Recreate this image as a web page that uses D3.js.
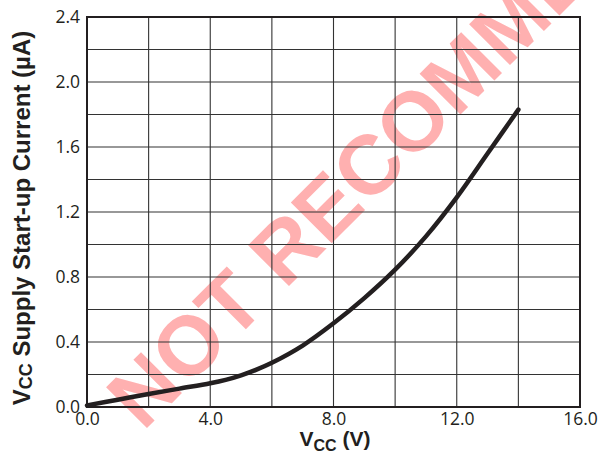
<!DOCTYPE html>
<html><head><meta charset="utf-8">
<script src="https://cdn.jsdelivr.net/npm/d3@7"></script>
<style>html,body{margin:0;padding:0;background:#fff;}</style>
</head><body>
<svg id="chart" width="599" height="458"></svg>
<script>
// Data
const vcc = [0, 1, 2, 3, 4, 4.5, 5, 5.5, 6, 7, 8, 9, 10, 11, 12, 13, 14];
const startupCurrent = [0.01, 0.045, 0.08, 0.113, 0.146, 0.167, 0.195, 0.23, 0.272, 0.378, 0.515, 0.67, 0.845, 1.05, 1.29, 1.56, 1.83];
const xTicks = [0, 4, 8, 12, 16];
const yTicks = [0, 0.4, 0.8, 1.2, 1.6, 2.0, 2.4];
const xGrid = [0, 2, 4, 6, 8, 10, 12, 14, 16];
const yGrid = [0, 0.2, 0.4, 0.6, 0.8, 1.0, 1.2, 1.4, 1.6, 1.8, 2.0, 2.2, 2.4];
const watermark = "NOT RECOMMENDED";

const svg = d3.select("#chart");
const x = d3.scaleLinear().domain([0, 16]).range([87, 580]);
const y = d3.scaleLinear().domain([0, 2.4]).range([407, 17]);
const ink = "#231f20";

// watermark
svg.append("text")
  .attr("transform", "translate(143,432) rotate(-45)")
  .attr("font-family", "Liberation Sans, Arial, sans-serif")
  .attr("font-weight", "bold")
  .attr("font-size", 84)
  .attr("fill", "#ffb0b0")
  .text(watermark);

// grid
svg.append("g").selectAll("line").data(xGrid).join("line")
  .attr("x1", d => x(d)).attr("x2", d => x(d))
  .attr("y1", y(0)).attr("y2", y(2.4))
  .attr("stroke", "#333").attr("stroke-width", 1.1);
svg.append("g").selectAll("line").data(yGrid).join("line")
  .attr("y1", d => y(d)).attr("y2", d => y(d))
  .attr("x1", x(0)).attr("x2", x(16))
  .attr("stroke", "#333").attr("stroke-width", 1.1);
svg.append("rect")
  .attr("x", x(0)).attr("y", y(2.4))
  .attr("width", x(16) - x(0)).attr("height", y(0) - y(2.4))
  .attr("fill", "none").attr("stroke", ink).attr("stroke-width", 2);

// axes labels
const xAxis = d3.axisBottom(x).tickValues(xTicks).tickFormat(d3.format(".1f")).tickSize(0).tickPadding(6);
const gx = svg.append("g").attr("transform", `translate(0,${y(0)})`).call(xAxis);
gx.select(".domain").remove();
gx.selectAll("text").attr("font-family", "Open Sans, sans-serif").attr("font-size", 17.5).attr("fill", ink);

const yAxis = d3.axisLeft(y).tickValues(yTicks).tickFormat(d3.format(".1f")).tickSize(0).tickPadding(7);
const gy = svg.append("g").attr("transform", `translate(${x(0)},0)`).call(yAxis);
gy.select(".domain").remove();
gy.selectAll("text").attr("font-family", "Open Sans, sans-serif").attr("font-size", 17.5).attr("fill", ink);

// curve
const line = d3.line().x((d, i) => x(vcc[i])).y(d => y(d)).curve(d3.curveCatmullRom.alpha(0.5));
svg.append("path").datum(startupCurrent)
  .attr("d", line).attr("fill", "none")
  .attr("stroke", ink).attr("stroke-width", 4.5).attr("stroke-linecap", "round");

// axis titles
const xt = svg.append("text")
  .attr("x", 335).attr("y", 446).attr("text-anchor", "middle")
  .attr("font-family", "Liberation Sans, Arial, sans-serif").attr("font-weight", "bold")
  .attr("font-size", 21).attr("fill", ink);
xt.append("tspan").text("V");
xt.append("tspan").attr("font-size", 16).attr("dy", 5).text("CC");
xt.append("tspan").attr("dy", -5).text(" (V)");

const yt = svg.append("text")
  .attr("transform", "translate(30,218) rotate(-90)")
  .attr("text-anchor", "middle")
  .attr("font-family", "Liberation Sans, Arial, sans-serif").attr("font-weight", "bold")
  .attr("font-size", 24).attr("fill", ink);
yt.append("tspan").text("V");
yt.append("tspan").attr("font-size", 18).attr("dy", 2).text("CC");
yt.append("tspan").attr("dy", -2).text(" Supply Start-up Current (µA)");
</script>
</body></html>
